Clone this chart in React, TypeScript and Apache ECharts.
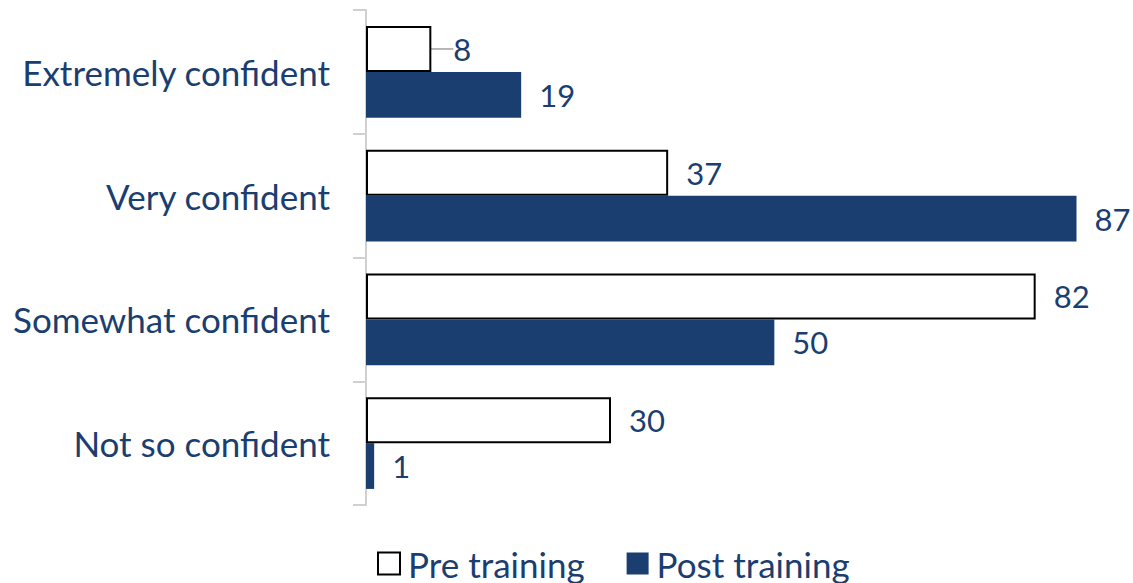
import React, { useEffect, useRef } from "react";
import * as echarts from "echarts";

const categories = ["Extremely confident", "Very confident", "Somewhat confident", "Not so confident"];
const preTraining = [8, 37, 82, 30];
const postTraining = [19, 87, 50, 1];
const seriesNames = ["Pre training", "Post training"];

const NAVY = "#1B3E70";
const FONT = "Lato, 'Open Sans', sans-serif";
const FS_CAT = 35;
const FS_LABEL = 31;

export default function App() {
  const ref = useRef<HTMLDivElement>(null);
  useEffect(() => {
    if (!ref.current) return;
    const chart = echarts.init(ref.current, null, { renderer: "svg" });
    const preData = preTraining.map((v, i) =>
      i === 0
        ? { value: v, labelLine: { show: true, lineStyle: { color: "#a0a0a0", width: 1.5 } } }
        : { value: v }
    );
    chart.setOption({
      animation: false,
      backgroundColor: "#ffffff",
      grid: { left: 366, top: 10, bottom: 78, right: 32, containLabel: false },
      legend: {
        bottom: 2,
        left: 377,
        padding: 0,
        icon: "rect",
        itemWidth: 22,
        itemHeight: 22,
        itemGap: 42,
        textStyle: { color: NAVY, fontSize: FS_CAT, fontFamily: FONT, padding: [0, 0, 0, 3] },
        data: [
          { name: seriesNames[0], itemStyle: { color: "#ffffff", borderColor: "#000000", borderWidth: 2 } },
          { name: seriesNames[1], itemStyle: { color: NAVY } },
        ],
      },
      xAxis: {
        type: "value",
        min: 0,
        max: 90,
        show: false,
      },
      yAxis: {
        type: "category",
        inverse: true,
        data: categories,
        axisLine: { show: true, lineStyle: { color: "#d0d0d0", width: 2 } },
        axisTick: { show: true, length: 13, lineStyle: { color: "#d0d0d0", width: 2 } },
        axisLabel: { color: NAVY, fontSize: FS_CAT, fontFamily: FONT, margin: 36 },
      },
      series: [
        {
          name: seriesNames[0],
          type: "bar",
          data: preData,
          barCategoryGap: "26%",
          barGap: "0%",
          itemStyle: { color: "#ffffff", borderColor: "#000000", borderWidth: 2 },
          label: {
            show: true,
            position: "right",
            distance: 18,
            color: NAVY,
            fontSize: FS_LABEL,
            fontFamily: FONT,
          },
          labelLayout: (params: any) => (params.dataIndex === 0 ? { dx: 4 } : {}),
          labelLine: { show: false },
        },
        {
          name: seriesNames[1],
          type: "bar",
          data: postTraining,
          barCategoryGap: "26%",
          barGap: "0%",
          itemStyle: { color: NAVY },
          label: {
            show: true,
            position: "right",
            distance: 18,
            color: NAVY,
            fontSize: FS_LABEL,
            fontFamily: FONT,
          },
        },
      ],
    });
    return () => chart.dispose();
  }, []);
  return (
    <div
      ref={ref}
      style={{ position: "absolute", left: 0, top: 0, width: 1133, height: 583 }}
    />
  );
}
